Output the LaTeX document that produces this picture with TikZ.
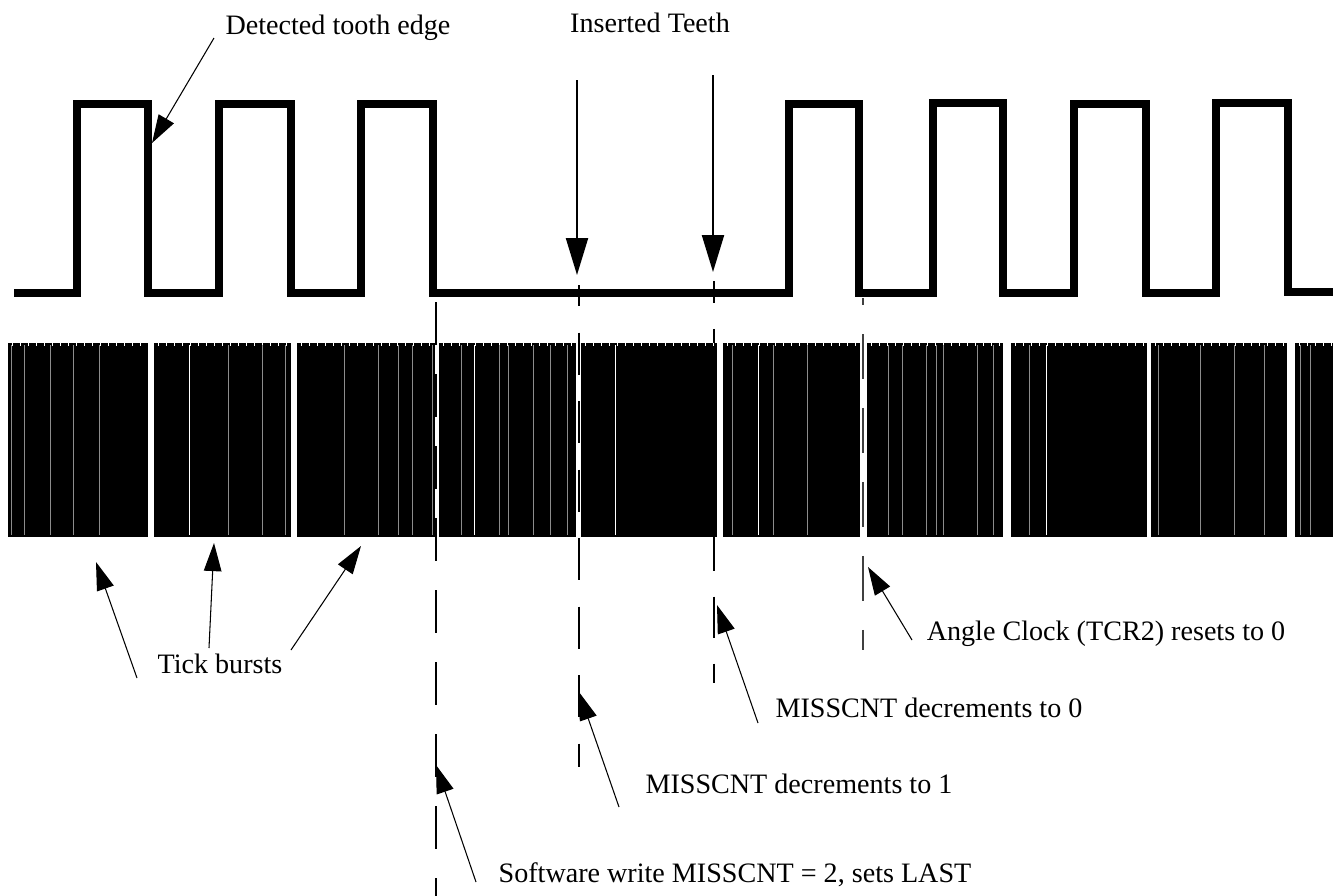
\documentclass[tikz,border=0pt]{standalone}
\usepackage{fontspec}
\setmainfont{Liberation Serif}
\usetikzlibrary{arrows.meta}
\tikzset{
  % Signal trace
  WV/.style={line width=4.6pt,line join=miter,miter limit=10},
  % Tick burst blocks and their inner lines
  TB/.style={fill=black},
  tkG/.style={black!45,line width=0.5pt},
  tkW/.style={white,line width=0.45pt},
  % Dashed marker lines
  mk/.style={line width=1.2pt},
  mkT/.style={black!75,line width=0.6pt},
  % Arrows
  ptr/.style={-{Triangle[length=16pt,width=10pt]},line width=0.6pt},
  bptr/.style={-{Triangle[length=21pt,width=12.5pt]},line width=1.2pt},
  % Labels
  LB/.style={font=\fontsize{16}{19}\selectfont,inner sep=0pt,anchor=base}
}
\begin{document}
\begin{tikzpicture}[x=0.02cm,y=-0.02cm]
  \useasboundingbox (0,0) rectangle (1333,896);

  % dashed markers
  \draw[mk,dash pattern=on 24.5pt off 16.5pt] (436,302) -- (436,896);
  \draw[mk,dash pattern=on 23.9pt off 15.1pt,dash phase=11.9pt] (579,285) -- (579,767);
  \draw[mk,dash pattern=on 23.3pt off 14.8pt,dash phase=10.8pt] (714,281) -- (714,683);
  \draw[mkT,dash pattern=on 25.6pt off 16.5pt,dash phase=21.6pt] (863,298) -- (863,650);

  % tick bursts
  \foreach \a/\b in {8/148,154/291,297/435,439/576,581/717,723/860,867/1003,1011/1147,1151/1287,1295/1333}{
    \fill[TB] (\a,343) rectangle (\b,537);
    \pgfmathsetmacro\s{\a+4}
    \pgfmathsetmacro\t{\a+12}
    \foreach \x in {\s,\t,...,\b} \draw[tkW] (\x,343) -- (\x,346);
  }
  \foreach \x in {11,24,50,73,99,228,262,285,344,378,398,412,432,461,499,508,533,550,567,
                  732,773,807,888,902,926,936,943,977,993,1029,1158,1200,1234,1264,1300,1310}
    \draw[tkG] (\x,345) -- (\x,535);
  \foreach \x in {189,474,615,758,1046}
    \draw[tkW] (\x,345) -- (\x,535);

  % tooth signal
  \draw[WV] (14,293) -- (77,293) -- (77,104) -- (148,104) -- (148,293)
    -- (219,293) -- (219,104) -- (291,104) -- (291,293)
    -- (361,293) -- (361,104) -- (433,104) -- (433,293)
    -- (789,293) -- (789,104) -- (859,104) -- (859,293)
    -- (933,293) -- (933,103) -- (1003,103) -- (1003,293)
    -- (1074,293) -- (1074,104) -- (1146,104) -- (1146,293)
    -- (1216,293) -- (1216,103) -- (1288,103) -- (1288,292) -- (1333,292);

  % labels
  \node[LB] (det)   at (338,34)  {Detected tooth edge};
  \node[LB] (ins)   at (650,32)  {Inserted Teeth};
  \node[LB] (tick)  at (220,673) {Tick bursts};
  \node[LB] (angle) at (1106,640) {Angle Clock (TCR2) resets to 0};
  \node[LB] (mc0)   at (929,717) {MISSCNT decrements to 0};
  \node[LB] (mc1)   at (799,793) {MISSCNT decrements to 1};
  \node[LB] (sw)    at (735,882) {Software write MISSCNT = 2, sets LAST};

  % arrow ends
  \coordinate (detT)  at (214,38);   \coordinate (detH)  at (152,143);
  \coordinate (insT1) at (577,80);   \coordinate (insH1) at (577,275);
  \coordinate (insT2) at (713,75);   \coordinate (insH2) at (713,272);
  \coordinate (tbT1)  at (137,678);  \coordinate (tbH1)  at (96,562);
  \coordinate (tbT2)  at (209,648);  \coordinate (tbH2)  at (214,543);
  \coordinate (tbT3)  at (291,650);  \coordinate (tbH3)  at (361,546);
  \coordinate (angT)  at (912,640);  \coordinate (angH)  at (868,567);
  \coordinate (mc0T)  at (758,723);  \coordinate (mc0H)  at (717,605);
  \coordinate (mc1T)  at (619,807);  \coordinate (mc1H)  at (579,692);
  \coordinate (swT)   at (476,882);  \coordinate (swH)   at (436,765);

  \draw[ptr] (detT) -- (detH);
  \draw[bptr] (insT1) -- (insH1);
  \draw[bptr] (insT2) -- (insH2);
  \draw[ptr] (tbT1) -- (tbH1);
  \draw[ptr] (tbT2) -- (tbH2);
  \draw[ptr] (tbT3) -- (tbH3);
  \draw[ptr] (angT) -- (angH);
  \draw[ptr] (mc0T) -- (mc0H);
  \draw[ptr] (mc1T) -- (mc1H);
  \draw[ptr] (swT) -- (swH);
\end{tikzpicture}
\end{document}
